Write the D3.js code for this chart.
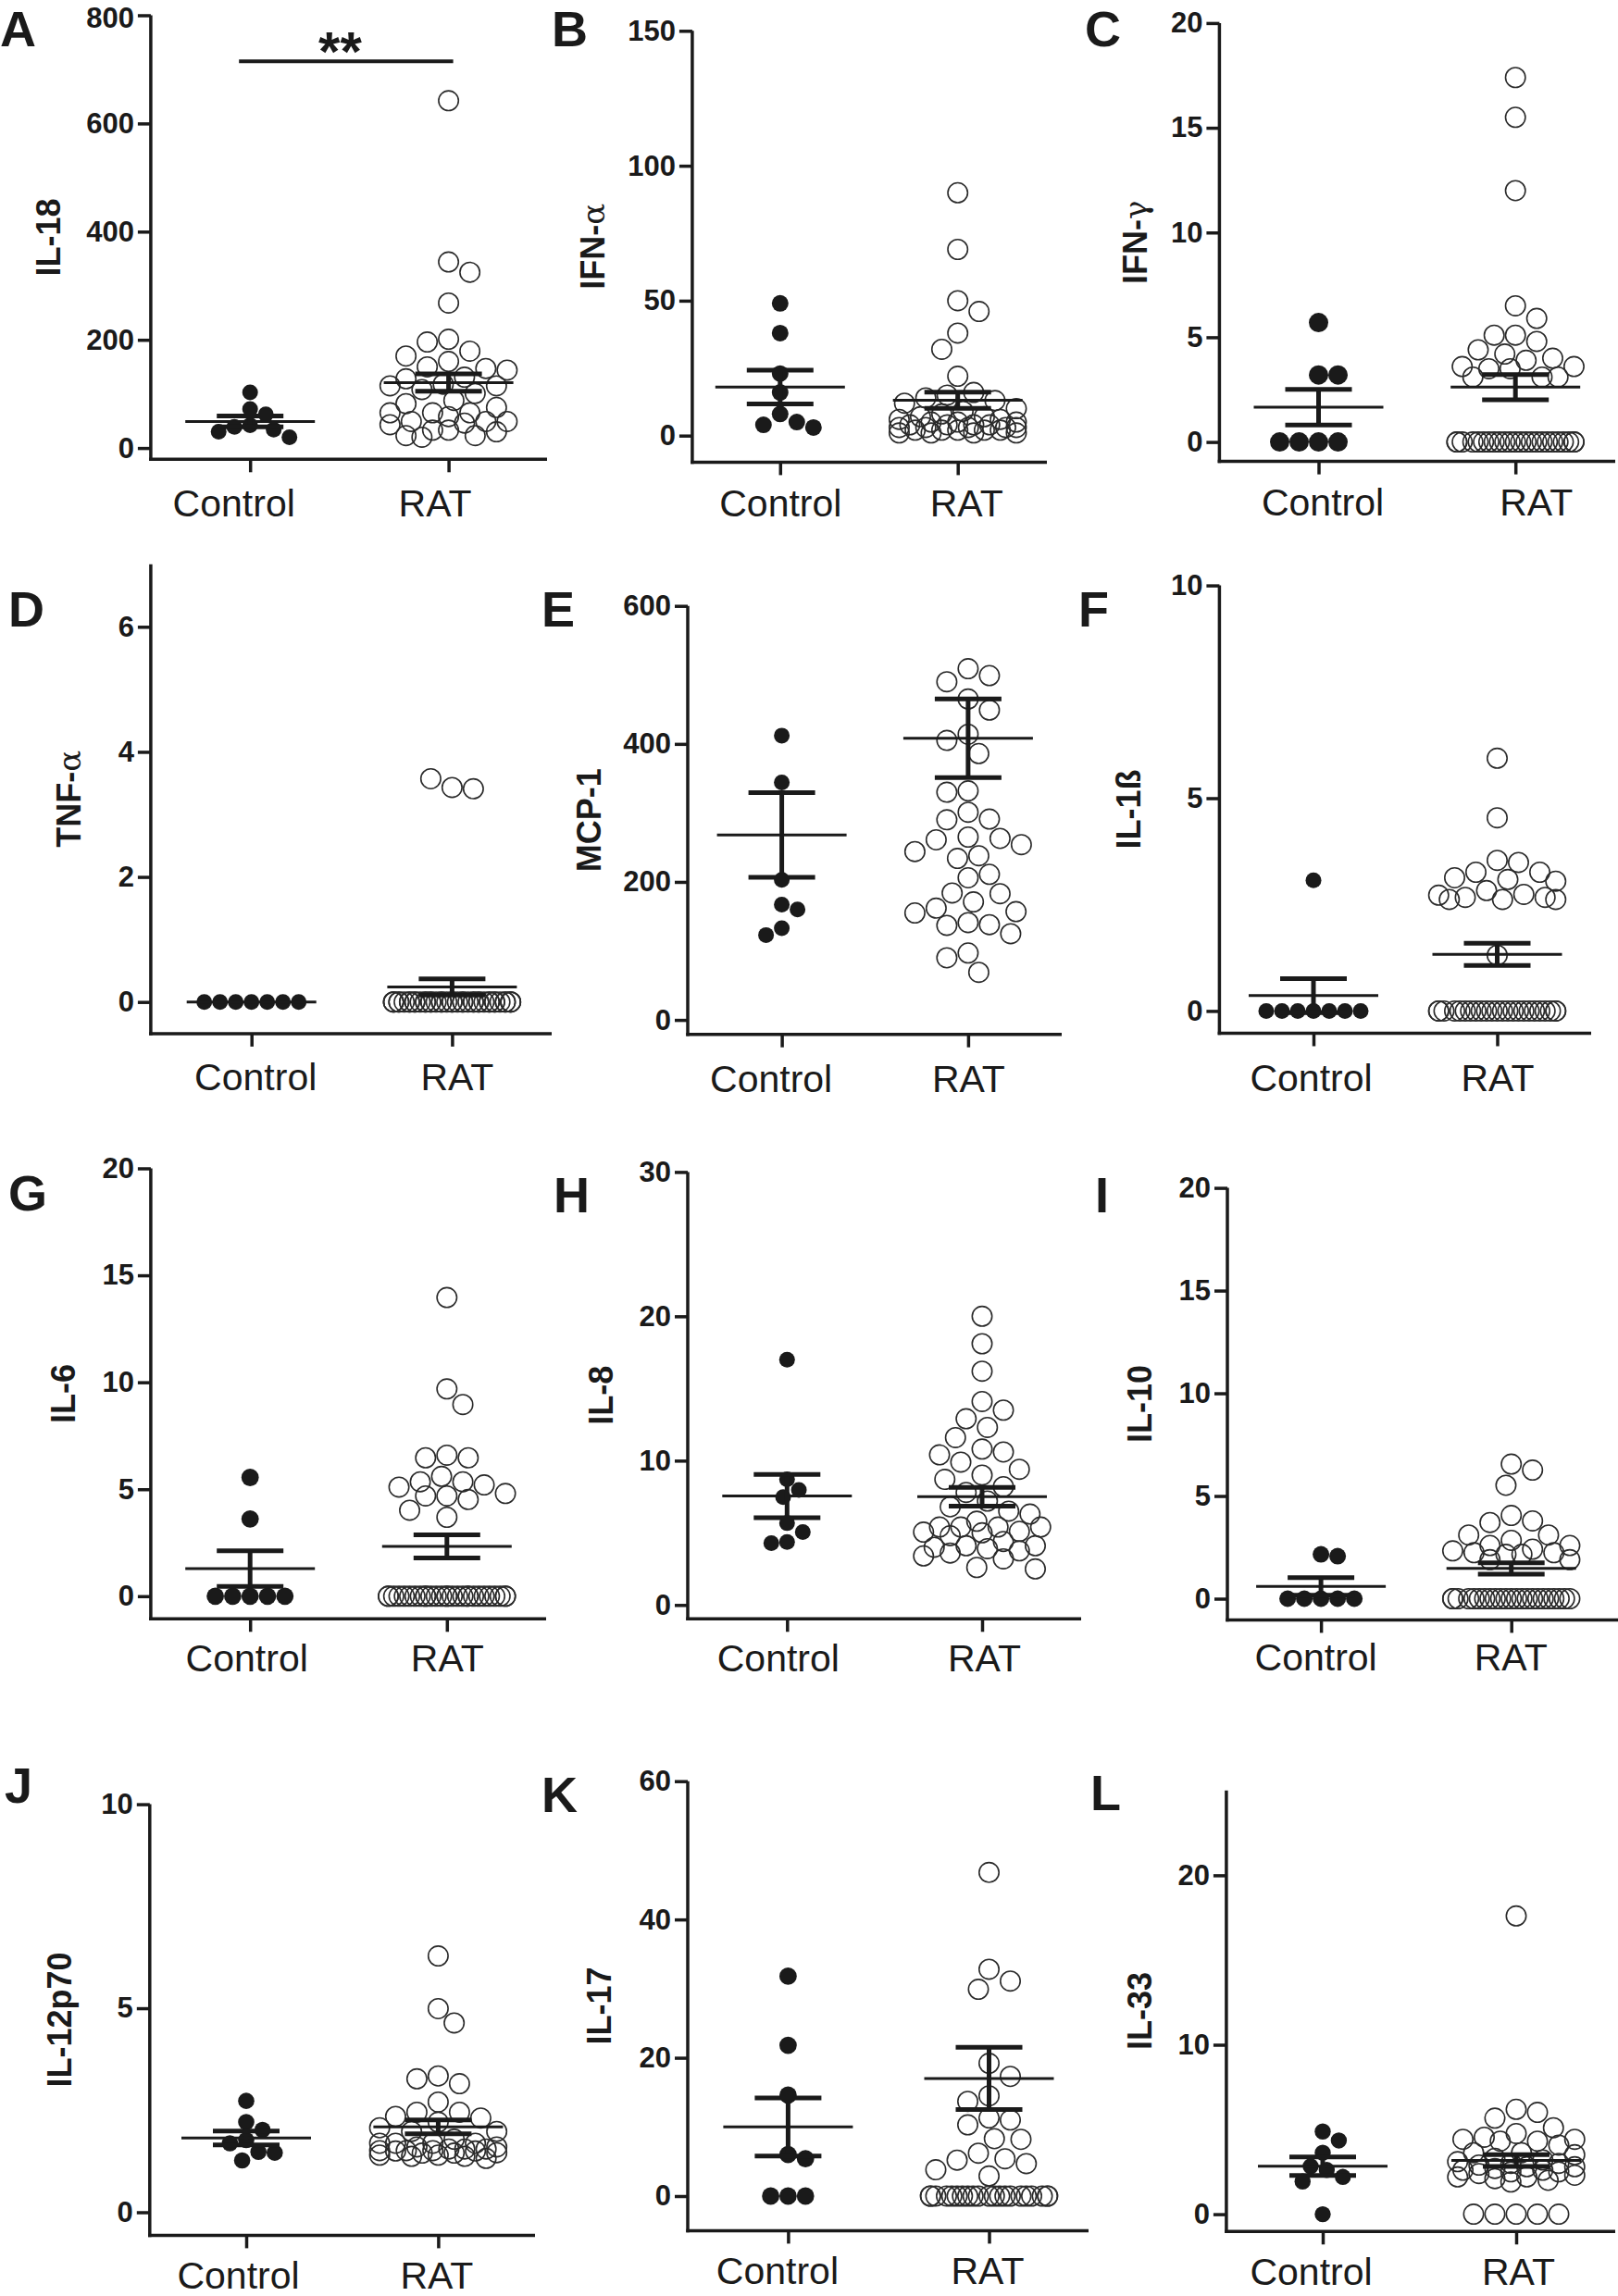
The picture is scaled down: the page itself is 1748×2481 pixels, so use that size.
<!DOCTYPE html>
<html><head><meta charset="utf-8">
<script src="https://cdn.jsdelivr.net/npm/d3@7"></script>
<style>body{margin:0;background:#fff}</style>
</head><body>
<script>
// ---------------- DATA ----------------
const groups = ["Control", "RAT"];
const panelLetters = ["A","B","C","D","E","F","G","H","I","J","K","L"];
const cytokineNames = ["IL-18","IFN-","IFN-","TNF-","MCP-1","IL-1ß","IL-6","IL-8","IL-10","IL-12p70","IL-17","IL-33"];
const greekSuffix = ["","α","γ","α","","","","","","","",""];

const ticksIL18 = [0,200,400,600,800];
const ticksIFNa = [0,50,100,150];
const ticksIFNg = [0,5,10,15,20];
const ticksTNFa = [0,2,4,6];
const ticksMCP1 = [0,200,400,600];
const ticksIL1b = [0,5,10];
const ticksIL6  = [0,5,10,15,20];
const ticksIL8  = [0,10,20,30];
const ticksIL10 = [0,5,10,15,20];
const ticksIL12 = [0,5,10];
const ticksIL17 = [0,20,40,60];
const ticksIL33 = [0,10,20];
const axisTopValues = [800,150,20,7,600,10,20,30,20,10,60,25];

const ctrlIL18 = [103,72,62,42,39,34,30,20];
const ratIL18  = [642,344,325,268,201,196,179,170,160,150,147,144,131,128,118,115,115,108,101,88,82,75,65,65,65,58,49,49,49,46,43,33,33,30,23,23,20];
const ctrlIFNa = [49,38,23,16,8,5,4,3];
const ratIFNa  = [90,69,50,46,38,32,22,16,15,14,13,12,10,9,8,7,7,6,6,5,5,5,4,4,4,4,3,3,3,3,3,2,2,2,2,2,1,1,1,1];
const ctrlIFNg = [5.7,3.2,3.2,0,0,0,0];
const ratIFNg  = [17.4,15.5,12.0,6.5,5.9,5.1,5.1,4.8,4.4,4.2,4.0,3.9,3.6,3.6,3.5,3.5,3.1,3.1,3.1,0,0,0,0,0,0,0,0,0,0,0,0,0,0,0,0,0,0,0,0,0,0,0,0];
const ctrlTNFa = [0,0,0,0,0,0,0];
const ratTNFa  = [3.43,3.41,3.57,0,0,0,0,0,0,0,0,0,0,0,0,0,0,0,0,0,0,0,0,0,0,0,0,0,0,0,0,0,0,0,0,0,0,0,0,0,0,0,0];
const ctrlMCP1 = [412,344,203,167,160,133,123];
const ratMCP1  = [509,499,490,465,449,414,405,386,332,330,301,291,290,265,263,261,254,244,238,234,211,206,184,183,171,162,157,155,141,138,137,125,97,90,69];
const ctrlIL1b = [3.07,0,0,0,0,0,0,0];
const ratIL1b  = [5.94,4.54,3.54,3.49,3.26,3.26,3.13,3.09,3.05,2.83,2.74,2.72,2.67,2.67,2.62,2.62,2.62,1.31,0,0,0,0,0,0,0,0,0,0,0,0,0,0,0,0,0,0,0,0,0,0,0,0];
const ctrlIL6  = [5.55,3.61,0,0,0,0,0];
const ratIL6   = [13.96,9.69,8.96,6.59,6.47,6.47,5.6,5.35,5.35,5.2,5.1,4.8,4.69,4.69,4.52,4.02,3.69,0,0,0,0,0,0,0,0,0,0,0,0,0,0,0,0,0,0,0,0,0,0,0,0,0,0,0,0];
const ctrlIL8  = [17.0,8.7,7.97,7.48,5.67,5.05,4.37,4.29];
const ratIL8   = [20.0,18.1,16.2,14.1,13.5,12.9,12.3,11.6,10.8,10.6,10.4,9.9,9.4,9.0,8.7,8.2,7.8,7.2,6.8,6.5,6.3,5.8,5.4,5.4,5.4,5.4,5.1,5.05,5.0,4.8,4.4,4.1,4.1,4.0,3.9,3.75,3.6,3.4,3.2,2.6,2.5];
const ctrlIL10 = [2.16,2.07,0,0,0,0,0];
const ratIL10  = [6.55,6.26,5.52,4.05,3.79,3.71,3.1,3.1,2.84,2.59,2.59,2.41,2.33,2.24,2.24,2.16,2.16,1.9,1.9,0,0,0,0,0,0,0,0,0,0,0,0,0,0,0,0,0,0,0,0,0,0,0];
const ctrlIL12 = [2.73,2.21,2.02,1.77,1.69,1.48,1.46,1.27];
const ratIL12  = [6.28,4.99,4.64,3.34,3.27,3.15,2.7,2.45,2.45,2.35,2.31,2.21,2.07,1.98,1.98,1.79,1.69,1.69,1.69,1.69,1.6,1.6,1.55,1.55,1.55,1.51,1.51,1.51,1.5,1.5,1.46,1.45,1.45,1.4,1.4,1.37,1.37,1.32];
const ctrlIL17 = [31.8,21.8,14.6,6.0,5.4,0,0,0];
const ratIL17  = [46.8,32.8,31.1,29.9,19.2,17.3,14.5,13.7,11.3,11.0,10.3,8.3,8.2,6.2,5.4,5.2,4.7,3.8,2.9,0,0,0,0,0,0,0,0,0,0,0,0,0,0,0,0,0,0,0,0,0];
const ctrlIL33 = [4.88,4.35,3.63,2.83,2.61,2.2,1.93,0];
const ratIL33  = [17.6,6.19,6.01,5.67,5.1,4.76,4.54,4.42,4.42,4.31,4.31,4.08,3.63,3.63,3.51,3.3,3.2,3.1,3.0,3.0,2.9,2.8,2.8,2.7,2.6,2.6,2.5,2.5,2.4,2.3,2.2,2.2,2.1,2.0,1.9,0,0,0,0,0];

// mean and SEM as drawn in the picture
const meanControl = [49,18,1.66,0,268,0.36,1.29,7.55,0.6,1.82,10,2.83];
const semControl  = [10,6.25,0.85,0,61.5,0.40,0.83,1.5,0.43,0.17,4.2,0.55];
const meanRAT     = [121,13.1,2.62,0.24,408,1.33,2.33,7.5,1.47,2.09,17,3.17];
const semRAT      = [16,3.0,0.6,0.13,57,0.26,0.54,0.65,0.28,0.17,4.5,0.35];

const sigLabel = "**";
const sigValue = 715;   // IL-18 panel, bar height in data units

const tickSets = [ticksIL18,ticksIFNa,ticksIFNg,ticksTNFa,ticksMCP1,ticksIL1b,ticksIL6,ticksIL8,ticksIL10,ticksIL12,ticksIL17,ticksIL33];
const ctrlSets = [ctrlIL18,ctrlIFNa,ctrlIFNg,ctrlTNFa,ctrlMCP1,ctrlIL1b,ctrlIL6,ctrlIL8,ctrlIL10,ctrlIL12,ctrlIL17,ctrlIL33];
const ratSets  = [ratIL18,ratIFNa,ratIFNg,ratTNFa,ratMCP1,ratIL1b,ratIL6,ratIL8,ratIL10,ratIL12,ratIL17,ratIL33];

// ---------------- LAYOUT (pixels) ----------------
const layout = [
 {ax:162.9, y0:484.1, refV:800, yRef:16.5, xa:496.3, xe:591,  cC:270.2, cR:484.6, lx:0,     ly:49.7,  tx:64.7,  ld:[-18,-15], lb:62, rf:8.5},
 {ax:747.9, y0:470.7, refV:150, yRef:33.3, xa:499.4, xe:1131, cC:842.8, cR:1034.7,lx:596,   ly:49.7,  tx:652.7, ld:[0,9],     lb:59, rf:9},
 {ax:1317.4,y0:477.6, refV:20,  yRef:24.9, xa:498.6, xe:1745, cC:1424.5,cR:1637.2,lx:1172,  ly:49.7,  tx:1239,  ld:[4,22],    lb:58, rf:10.5},
 {ax:162.9, y0:1082.7,refV:6,   yRef:677.3,xa:1116.9,xe:596,  cC:271.7, cR:488.4, lx:9,     ly:677,   tx:86.5,  ld:[4,5],     lb:61, rf:8.5},
 {ax:743,   y0:1102.1,refV:600, yRef:654.7,xa:1117.7,xe:1147, cC:844.6, cR:1045.9,lx:585,   ly:677,   tx:649,   ld:[-12,0],   lb:62, rf:8.5},
 {ax:1317.4,y0:1092.4,refV:10,  yRef:632.6,xa:1116.5,xe:1719, cC:1419,  cR:1617.5,lx:1165,  ly:677,   tx:1232,  ld:[-3,0],    lb:62, rf:8.5},
 {ax:162.9, y0:1724.8,refV:20,  yRef:1262.5,xa:1749.3,xe:590, cC:270.2, cR:482.8, lx:9,     ly:1308,  tx:80.9,  ld:[-4,0],    lb:57, rf:9.4},
 {ax:743,   y0:1734.3,refV:30,  yRef:1266.4,xa:1749.3,xe:1168,cC:850.3, cR:1061,  lx:598,   ly:1310,  tx:662,   ld:[-10,2],   lb:57, rf:8.5},
 {ax:1326,  y0:1727.5,refV:20,  yRef:1283.6,xa:1750.4,xe:1748,cC:1427.1,cR:1632.7,lx:1183,  ly:1310,  tx:1244,  ld:[-6,-1],   lb:55, rf:9},
 {ax:161.8, y0:2390.5,refV:10,  yRef:1949.6,xa:2415.4,xe:578, cC:266,   cR:473.4, lx:5,     ly:1948,  tx:77,    ld:[-9,-2],   lb:58, rf:8.8},
 {ax:743,   y0:2373,  refV:60,  yRef:1924.7,xa:2410.4,xe:1176,cC:851.4, cR:1068.5,lx:585,   ly:1958,  tx:660,   ld:[-12,-2],  lb:58, rf:9.4},
 {ax:1324.9,y0:2392.6,refV:20,  yRef:2026.4,xa:2411.3,xe:1745,cC:1429,  cR:1638,  lx:1178,  ly:1956,  tx:1244,  ld:[-13,2],   lb:58, rf:8.7}
];
const rOpen = 11.5, spread = 64, meanHalf = 70, capHalf = 36;
const tickFont = 31;
const ink = "#1a1a1a";
const sansFont = "'Liberation Sans', Arial, Helvetica, sans-serif";

// ---------------- DRAW ----------------
const svg = d3.select("body").append("svg")
  .attr("width",1748).attr("height",2481)
  .attr("xmlns","http://www.w3.org/2000/svg");
svg.append("rect").attr("width",1748).attr("height",2481).attr("fill","#fff");

// Prism-like scatter: each point takes the horizontal slot with the least (squared) overlap
function swarm(values, yScale, r, maxHalf) {
  const step = r / 2;
  const cands = [0];
  for (let o = step; o <= maxHalf + 1e-6; o += step) { cands.push(o, -o); }
  const placed = [];
  let flip = 1;
  values.forEach(v => {
    const py = yScale(v);
    let best = 0, bestPen = Infinity, bestAbs = Infinity;
    for (const c of cands) {
      let pen = 0;
      for (const q of placed) {
        const d = Math.hypot(c - q.dx, py - q.py);
        if (d < 2 * r) pen += (2 * r - d) * (2 * r - d);
      }
      const a = Math.abs(c);
      if (pen < bestPen - 1e-6 ||
         (Math.abs(pen - bestPen) <= 1e-6 && (a < bestAbs - 1e-6 ||
         (Math.abs(a - bestAbs) <= 1e-6 && Math.sign(c) === flip)))) {
        best = c; bestPen = pen; bestAbs = a;
      }
    }
    if (best !== 0) flip = -Math.sign(best);
    placed.push({v, dx: best, py});
  });
  return placed;
}

layout.forEach((L, i) => {
  const g = svg.append("g");
  const y = d3.scaleLinear().domain([0, L.refV]).range([L.y0, L.yRef]);
  const x = d3.scalePoint().domain(groups).range([L.cC, L.cR]);
  const yTop = y(axisTopValues[i]);

  // y axis
  const yAx = g.append("g").attr("transform", `translate(${L.ax},0)`)
    .call(d3.axisLeft(y).tickValues(tickSets[i]).tickSize(14).tickPadding(4).tickFormat(d3.format("d")));
  yAx.select(".domain").remove();
  yAx.selectAll(".tick line").attr("stroke", ink).attr("stroke-width", 3.5);
  yAx.selectAll(".tick text").attr("fill", ink).attr("font-family", sansFont)
    .attr("font-size", tickFont).attr("font-weight", "bold")
    .attr("y", d => Math.max(0, tickFont * 0.62 - y(d)));   // keep the top label inside the page
  g.append("line").attr("x1", L.ax).attr("x2", L.ax).attr("y1", yTop).attr("y2", L.xa + 1.75)
    .attr("stroke", ink).attr("stroke-width", 3.5);

  // x axis
  const xAx = g.append("g").attr("transform", `translate(0,${L.xa})`)
    .call(d3.axisBottom(x).tickSize(14).tickPadding(17));
  xAx.select(".domain").remove();
  xAx.selectAll(".tick line").attr("stroke", ink).attr("stroke-width", 3.5);
  xAx.selectAll(".tick text").attr("fill", ink).attr("font-family", sansFont)
    .attr("font-size", 41).attr("font-weight", "normal")
    .attr("dy", null).attr("y", L.lb)
    .attr("dx", (d, k) => L.ld[k]);
  g.append("line").attr("x1", L.ax - 1.75).attr("x2", L.xe).attr("y1", L.xa).attr("y2", L.xa)
    .attr("stroke", ink).attr("stroke-width", 3.5);

  // title
  const t = g.append("text")
    .attr("transform", `translate(${L.tx},${(yTop + L.xa) / 2}) rotate(-90)`)
    .attr("text-anchor", "middle").attr("fill", ink)
    .attr("font-family", sansFont).attr("font-size", 36).attr("font-weight", "bold");
  t.append("tspan").text(cytokineNames[i]);
  if (greekSuffix[i]) t.append("tspan").attr("font-family", "'DejaVu Serif', 'Liberation Serif', serif")
    .attr("font-weight", "normal").attr("font-size", 34).text(greekSuffix[i]);

  // panel letter
  g.append("text").attr("x", L.lx).attr("y", L.ly).attr("fill", ink)
    .attr("font-family", sansFont).attr("font-size", 54).attr("font-weight", "bold")
    .text(panelLetters[i]);

  // points
  const ctrlPts = swarm(ctrlSets[i], y, L.rf, spread);
  const ratPts  = swarm(ratSets[i], y, rOpen, spread);
  g.append("g").selectAll("circle").data(ctrlPts).join("circle")
    .attr("cx", d => x("Control") + d.dx).attr("cy", d => d.py).attr("r", L.rf)
    .attr("fill", ink);
  g.append("g").selectAll("circle").data(ratPts).join("circle")
    .attr("cx", d => x("RAT") + d.dx).attr("cy", d => d.py).attr("r", rOpen - 0.8)
    .attr("fill", "none").attr("stroke", "#2a2a2a").attr("stroke-width", 1.6);

  // mean and SEM
  const stats = [
    {grp: "Control", m: meanControl[i], s: semControl[i]},
    {grp: "RAT", m: meanRAT[i], s: semRAT[i]}
  ];
  stats.forEach(st => {
    const cx = x(st.grp);
    g.append("line").attr("x1", cx - meanHalf).attr("x2", cx + meanHalf)
      .attr("y1", y(st.m)).attr("y2", y(st.m)).attr("stroke", ink).attr("stroke-width", 3);
    if (st.s > 0) {
      g.append("line").attr("x1", cx).attr("x2", cx).attr("y1", y(st.m + st.s)).attr("y2", y(st.m - st.s))
        .attr("stroke", ink).attr("stroke-width", 5);
      [st.m + st.s, st.m - st.s].forEach(v => {
        g.append("line").attr("x1", cx - capHalf).attr("x2", cx + capHalf)
          .attr("y1", y(v)).attr("y2", y(v)).attr("stroke", ink).attr("stroke-width", 5);
      });
    }
  });

  // significance bar (IL-18 only)
  if (i === 0) {
    g.append("line").attr("x1", x("Control") - 12).attr("x2", x("RAT") + 5)
      .attr("y1", y(sigValue)).attr("y2", y(sigValue)).attr("stroke", ink).attr("stroke-width", 4);
    g.append("text").attr("x", (x("Control") + x("RAT")) / 2 - 10).attr("y", y(sigValue) + 10)
      .attr("text-anchor", "middle").attr("fill", ink).attr("font-family", sansFont)
      .attr("font-size", 60).attr("font-weight", "bold").text(sigLabel);
  }
});
</script>
</body></html>
